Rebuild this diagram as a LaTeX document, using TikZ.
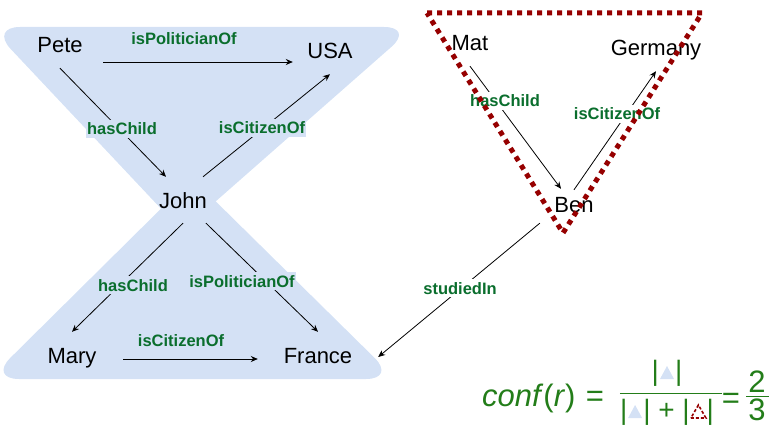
\documentclass[tikz,border=0pt]{standalone}
\usepackage{fontspec}
\setmainfont{Liberation Sans}
\usetikzlibrary{arrows.meta}

\definecolor{hgblue}{RGB}{212,225,245}
\definecolor{relgreen}{RGB}{10,110,45}
\definecolor{confgreen}{RGB}{35,125,25}
\definecolor{ruledred}{RGB}{150,0,0}

\tikzset{
  ent/.style={font=\fontsize{22}{24}\selectfont, text height=16pt, text depth=0pt,
    minimum width=80pt, minimum height=46pt, inner sep=0pt},
  rel/.style={-{Stealth[length=7pt,width=6pt]}, line width=0.8pt},
  lbl/.style={font=\fontsize{16.5}{18}\selectfont\bfseries, text=relgreen,
    text height=12pt, text depth=0pt, fill=hgblue, inner xsep=1pt, inner ysep=3pt},
  conf/.style={font=\fontsize{31}{34}\selectfont, text=confgreen, inner sep=0pt},
  confpart/.style={font=\fontsize{28}{30}\selectfont, text=confgreen, inner sep=0pt},
  blutri/.style={fill=hgblue},
  redtri/.style={draw=ruledred, line width=1.6pt, dash pattern=on 3pt off 2pt},
}

\begin{document}
\begin{tikzpicture}[x=1pt,y=-1pt]
  \useasboundingbox (0,0) rectangle (774,425);

  % hourglass behind the left rule
  \fill[hgblue, rounded corners=30pt] (-10,27) -- (414,27) -- (182,231) -- cycle;
  \fill[hgblue, rounded corners=30pt] (-11,379) -- (396,379) -- (192,178) -- cycle;

  % entities
  \node[ent, minimum width=86pt] (pete) at (60,45) {Pete};
  \node[ent, minimum width=74pt] (usa) at (330,51) {USA};
  \node[ent] (john) at (183,200) {John};
  \node[ent, minimum width=102pt] (mary) at (72,355) {Mary};
  \node[ent, minimum width=120pt] (france) at (318,355) {France};
  \node[ent] (mat) at (470,43) {Mat};
  \node[ent] (germany) at (656,48) {Germany};
  \node[ent] (ben) at (574,204) {Ben};

  % relations
  \draw[rel] ([yshift=-17pt]pete.east) -- ([yshift=-17pt]pete.east -| usa.west);
  \draw[rel] (pete.south) -- ([xshift=-17pt]john.north);
  \draw[rel] ([xshift=20pt]john.north) -- (usa.south);
  \draw[rel] (john.south) -- (mary.north);
  \draw[rel] ([xshift=23pt]john.south) -- (france.north);
  \draw[rel] ([yshift=-4pt]mary.east) -- ([yshift=-4pt]mary.east -| france.west);
  \draw[rel] (mat.south) -- ([xshift=-13pt,yshift=-8pt]ben.north);
  \draw[rel] ([yshift=-9pt]ben.north) -- (germany.south);
  \draw[rel] ([xshift=6pt,yshift=4pt]ben.south west) -- ([yshift=-2pt]france.east);

  \node[lbl] (pol1) at (184,39) {isPoliticianOf};
  \node[lbl] (child1) at (122,129) {hasChild};
  \node[lbl] (cit1) at (262,128) {isCitizenOf};
  \node[lbl] (child2) at (133,285) {hasChild};
  \node[lbl] (pol2) at (242,281) {isPoliticianOf};
  \node[lbl] (cit2) at (181,340) {isCitizenOf};
  \node[lbl, fill=white] (child3) at (505,101) {hasChild};
  \node[lbl, fill=white] (cit3) at (617,114) {isCitizenOf};
  \node[lbl, fill=white] (studied) at (460,288) {studiedIn};

  % the right rule
  \draw[ruledred, line width=5pt, dash pattern=on 5pt off 5pt]
    (427,13) -- (702,13) -- (563,233) -- cycle;

  % confidence
  \node[conf, anchor=base west] (confr) at (482,406) {\textit{conf}(\textit{r})};
  \node[conf, anchor=base] (eqa) at (595,406) {=};
  \node[confpart, anchor=base] (num) at (667,380) {|\hspace*{16pt}|};
  \node[confpart, anchor=base] (den) at (667,419) {|\hspace*{16pt}| + |\hspace*{17pt}|};
  \fill[blutri, shift={(num.base)}] (-7,-1) -- (7,-1) -- (0,-14) -- cycle;
  \fill[blutri, shift={(den.base west)}] (8.3,-1) -- (22.3,-1) -- (15.3,-14) -- cycle;
  \draw[redtri, shift={(den.base east)}] (-23.3,-1) -- (-8.3,-1) -- (-15.8,-14) -- cycle;
  \draw[confgreen, line width=1pt] (den.north west) ++(0,-5) -- ++(102,0);
  \node[conf, anchor=base] (eqb) at (731,408) {=};
  \node[conf, anchor=base] (two) at (757,392) {2};
  \draw[confgreen, line width=1pt] (746,396) -- (769,396);
  \node[conf, anchor=base] (three) at (757,420) {3};
\end{tikzpicture}
\end{document}
